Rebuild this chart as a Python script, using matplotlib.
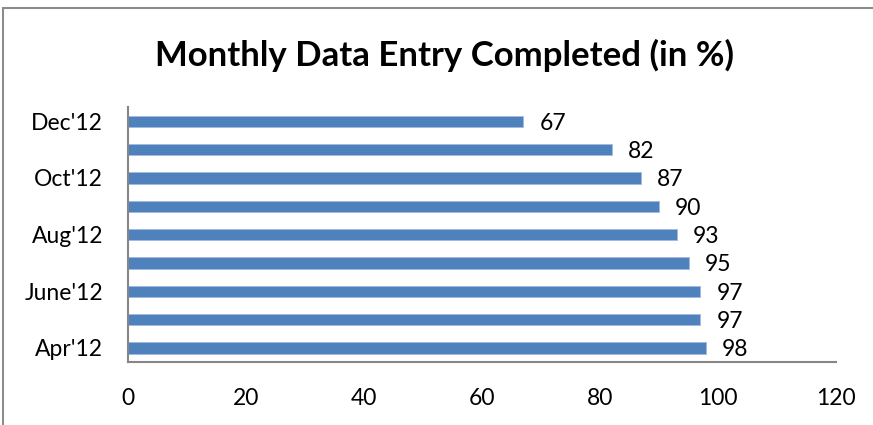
import matplotlib.pyplot as plt
from matplotlib.patches import Rectangle

months = ["Apr'12", "May'12", "June'12", "July'12", "Aug'12",
          "Sep'12", "Oct'12", "Nov'12", "Dec'12"]
completed = [98, 97, 97, 95, 93, 90, 87, 82, 67]
shown_labels = ["Apr'12", "June'12", "Aug'12", "Oct'12", "Dec'12"]
x_ticks = [0, 20, 40, 60, 80, 100, 120]

plt.rcParams['font.family'] = ['Lato', 'DejaVu Sans']

W, H = 873, 425
fig = plt.figure(figsize=(W / 100, H / 100), dpi=100)

# outer chart frame (runs off the right/bottom edges in the reference)
fig.patches.append(Rectangle((3.5 / W, -0.1), 1.2, 1.1 - 8.5 / H,
                             transform=fig.transFigure, fill=False,
                             edgecolor='#8c8c8c', linewidth=1.5))

ax = fig.add_axes([128 / W, (H - 362) / H, (836 - 128) / W, (362 - 107) / H])

pos = list(range(len(months)))
ax.barh(pos, completed, height=0.4, color='#4f81bd', edgecolor='#9fbbe0',
        linewidth=0.6)

for y, v in zip(pos, completed):
    ax.annotate(str(v), xy=(v, y), xytext=(11.5, -1.5), textcoords='offset points',
                ha='left', va='center', fontsize=16.5)

ax.set_xlim(0, 120)
ax.set_ylim(-0.5, len(months) - 0.5)
ax.set_xticks(x_ticks)
ax.set_xticklabels([str(t) for t in x_ticks], fontsize=16.5)
ax.set_yticks([months.index(m) for m in shown_labels])
ax.set_yticklabels(shown_labels, fontsize=16.5)
ax.tick_params(length=0, pad=18)
ax.tick_params(axis='x', pad=19)

for s in ['top', 'right']:
    ax.spines[s].set_visible(False)
for s in ['left', 'bottom']:
    ax.spines[s].set_color('#868686')
    ax.spines[s].set_linewidth(1.5)

fig.text(445 / W, 1 - 55 / H, 'Monthly Data Entry Completed (in %)',
         ha='center', va='center', fontsize=25, fontweight='bold')

fig.savefig('out.png', dpi=100)
